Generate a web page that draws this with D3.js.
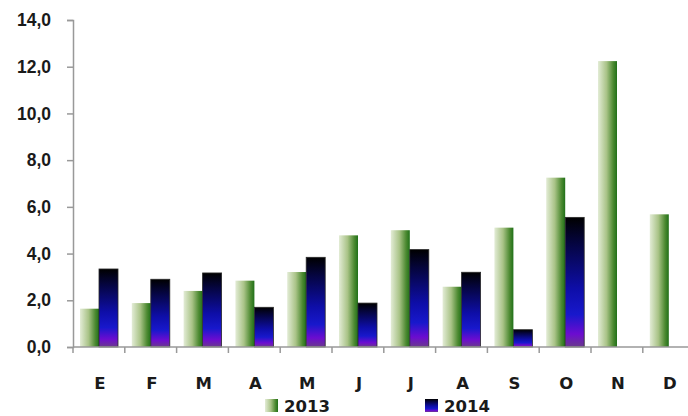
<!DOCTYPE html>
<html>
<head>
  <meta charset="utf-8">
  <title>Meses 2013 / 2014</title>
  <script src="https://d3js.org/d3.v7.min.js"></script>
  <style>
    body { margin: 0; background: #fff; }
    svg { display: block; font-family: "DejaVu Sans", Verdana, sans-serif; }
  </style>
</head>
<body>
<div id="chart"></div>
<script>
  // data
  var months = ["E", "F", "M", "A", "M", "J", "J", "A", "S", "O", "N", "D"];
  var values2013 = [1.64, 1.88, 2.40, 2.84, 3.21, 4.78, 5.00, 2.58, 5.11, 7.25, 12.24, 5.68];
  var values2014 = [3.34, 2.90, 3.17, 1.70, 3.84, 1.88, 4.17, 3.20, 0.74, 5.55, null, null];
  var yTicks = [0, 2, 4, 6, 8, 10, 12, 14];
  var seriesNames = ["2013", "2014"];

  var width = 688, height = 416;
  var margin = {top: 20, left: 73, bottom: 69};

  var svg = d3.select("#chart").append("svg")
      .attr("width", width)
      .attr("height", height);

  var defs = svg.append("defs");

  var green = defs.append("linearGradient")
      .attr("id", "g2013")
      .attr("x1", "0").attr("y1", "0").attr("x2", "1").attr("y2", "0");
  green.append("stop").attr("offset", "0%").attr("stop-color", "#e3ecd6");
  green.append("stop").attr("offset", "45%").attr("stop-color", "#a9c387");
  green.append("stop").attr("offset", "80%").attr("stop-color", "#4d8a32");
  green.append("stop").attr("offset", "100%").attr("stop-color", "#207018");

  var blue = defs.append("linearGradient")
      .attr("id", "g2014")
      .attr("x1", "0").attr("y1", "0").attr("x2", "0").attr("y2", "1");
  blue.append("stop").attr("offset", "0%").attr("stop-color", "#000000");
  blue.append("stop").attr("offset", "20%").attr("stop-color", "#050540");
  blue.append("stop").attr("offset", "55%").attr("stop-color", "#0e0ea8");
  blue.append("stop").attr("offset", "75%").attr("stop-color", "#1818cc");
  blue.append("stop").attr("offset", "90%").attr("stop-color", "#6c0cd0");
  blue.append("stop").attr("offset", "100%").attr("stop-color", "#6a3a8c");

  var plotBottom = height - margin.bottom;

  var x = d3.scaleBand()
      .domain(d3.range(months.length))
      .range([margin.left, margin.left + 51.8 * months.length]);

  var y = d3.scaleLinear()
      .domain([0, 14])
      .range([plotBottom, margin.top]);

  var barW = 19;
  var inset = 7;

  // y axis
  var yAxis = svg.append("g")
      .attr("transform", "translate(" + margin.left + ",0)")
      .call(d3.axisLeft(y).tickValues(yTicks).tickSize(6).tickPadding(16)
        .tickFormat(function(d) { return d3.format(".1f")(d).replace(".", ","); }));
  yAxis.select(".domain").attr("stroke", "#999").attr("stroke-width", 1.5);
  yAxis.selectAll(".tick line").attr("stroke", "#999").attr("stroke-width", 1.5);
  yAxis.selectAll("text")
      .attr("font-size", "17.5px")
      .attr("font-weight", "bold")
      .attr("fill", "#1a1a1a");

  // bars
  var groups = svg.append("g").selectAll("g")
      .data(months)
      .join("g")
      .attr("transform", function(d, i) { return "translate(" + x(i) + ",0)"; });

  groups.append("rect")
      .attr("x", inset)
      .attr("y", function(d, i) { return y(values2013[i]); })
      .attr("width", barW)
      .attr("height", function(d, i) { return y(0) - y(values2013[i]); })
      .attr("fill", "url(#g2013)");

  groups.each(function(d, i) {
    if (values2014[i] == null) return;
    d3.select(this).append("rect")
      .attr("x", inset + barW)
      .attr("y", y(values2014[i]))
      .attr("width", barW)
      .attr("height", y(0) - y(values2014[i]))
      .attr("fill", "url(#g2014)")
      .attr("stroke", "#2a2a2a")
      .attr("stroke-width", 0.8);
  });

  // x axis
  var xAxis = svg.append("g")
      .attr("transform", "translate(0," + plotBottom + ")");
  xAxis.append("line")
      .attr("x1", margin.left).attr("x2", width)
      .attr("stroke", "#999").attr("stroke-width", 1.5);
  xAxis.selectAll(".xt")
      .data(d3.range(months.length + 1))
      .join("line")
      .attr("class", "xt")
      .attr("x1", function(i) { return margin.left + i * x.bandwidth(); })
      .attr("x2", function(i) { return margin.left + i * x.bandwidth(); })
      .attr("y1", 0).attr("y2", 6)
      .attr("stroke", "#999").attr("stroke-width", 1.5);
  xAxis.selectAll(".xl")
      .data(months)
      .join("text")
      .attr("class", "xl")
      .attr("x", function(d, i) { return x(i) + inset + barW + 1; })
      .attr("y", 42)
      .attr("text-anchor", "middle")
      .attr("font-size", "16.5px")
      .attr("font-weight", "bold")
      .attr("fill", "#1a1a1a")
      .text(function(d) { return d; });

  // legend
  var legend = svg.append("g").selectAll("g")
      .data(seriesNames)
      .join("g")
      .attr("transform", function(d, i) { return "translate(" + (265 + i * 160) + ",399)"; });
  legend.append("rect")
      .attr("width", 13).attr("height", 13)
      .attr("fill", function(d, i) { return i === 0 ? "url(#g2013)" : "url(#g2014)"; });
  legend.append("text")
      .attr("x", 19).attr("y", 12.5)
      .attr("font-size", "16.5px")
      .attr("font-weight", "bold")
      .attr("fill", "#1a1a1a")
      .text(function(d) { return d; });
</script>
</body>
</html>
